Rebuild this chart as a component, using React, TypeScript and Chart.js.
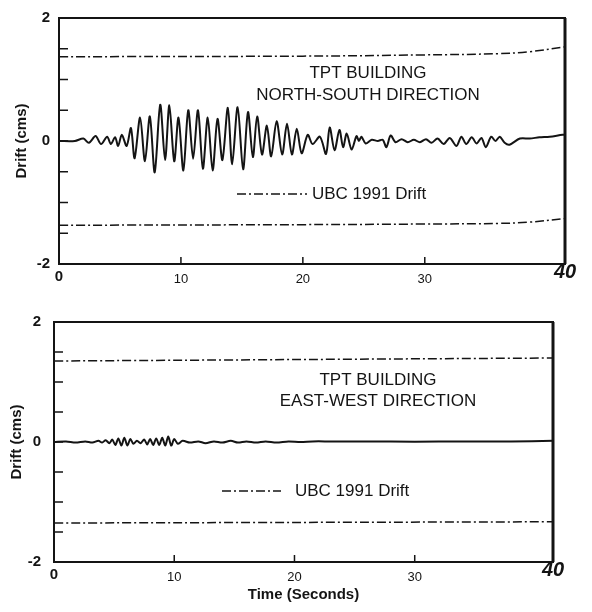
import React, { useEffect, useRef } from 'react';
import { Chart, registerables } from 'chart.js';

Chart.register(...registerables);

const FONT = '"Liberation Sans", Arial, Helvetica, sans-serif';
const INK = '#141414';
const DASH = [9, 3, 2, 3];

// ---- axis data ----
const xMax = 41.5;
const xTickValues = [0, 10, 20, 30, 41.5];
const xTickLabels = ['0', '10', '20', '30', '40'];
const yLabelValues = [-2, 0, 2];
const yAxisTitle = 'Drift (cms)';
const xAxisTitle = 'Time (Seconds)';
const legendLabel = 'UBC 1991 Drift';

// ---- North-South ----
const nsTitleLines = ['TPT BUILDING', 'NORTH-SOUTH DIRECTION'];
const nsTime = [
  0, 1.3, 2.0, 2.45, 3.0, 3.45, 3.95, 4.25, 4.6, 4.85, 5.15, 5.55, 5.9, 6.2, 6.65, 7.05, 7.45, 7.85,
  8.3, 8.7, 9.05, 9.45, 9.8, 10.2, 10.6, 11.0, 11.4, 11.8, 12.2, 12.6, 13.0, 13.4, 13.85, 14.2,
  14.65, 15.1, 15.5, 15.9, 16.25, 16.65, 17.05, 17.4, 17.85, 18.3, 18.7, 19.1, 19.5, 19.9, 20.4,
  20.8, 21.4, 21.9, 22.2, 22.6, 23.0, 23.3, 23.6, 24.0, 24.4, 24.6, 24.8, 25.15, 25.65, 26.15,
  26.55, 26.85, 27.2, 27.6, 28.1, 28.6, 29.1, 29.6, 30.1, 30.55, 31.05, 31.55, 32.05, 32.6, 33.0,
  33.4, 33.85, 34.25, 34.65, 35.0, 35.45, 35.8, 36.15, 36.55, 36.95, 37.8, 38.6, 39.4, 40.25,
  41.3, 41.5,
];
const nsDrift = [
  0, 0, 0.04, -0.03, 0.08, -0.05, 0.07, -0.05, 0.06, -0.08, 0.1, -0.08, 0.21, -0.28, 0.38, -0.33,
  0.4, -0.51, 0.59, -0.31, 0.58, -0.33, 0.38, -0.48, 0.5, -0.29, 0.5, -0.45, 0.38, -0.48, 0.36,
  -0.31, 0.54, -0.38, 0.55, -0.46, 0.47, -0.26, 0.4, -0.22, 0.25, -0.25, 0.32, -0.22, 0.28, -0.22,
  0.2, -0.2, 0.1, -0.05, 0.07, -0.21, 0.22, -0.15, 0.18, -0.1, 0.12, -0.14, 0.08, 0.0, 0.07, -0.04,
  0.02, 0.0, 0.02, -0.1, 0.09, -0.02, 0.03, -0.02, 0.02, -0.02, 0.03, -0.03, 0.04, -0.05, 0.05,
  -0.08, 0.07, -0.05, 0.06, -0.04, 0.05, -0.1, 0.07, 0.0, 0.07, -0.03, -0.06, 0.04, 0.04, 0.06,
  0.07, 0.1, 0.1,
];
const nsUbcTime = [0, 20, 30, 36, 38.5, 41.5];
const nsUbcUpper = [1.37, 1.38, 1.4, 1.42, 1.45, 1.53];
const nsUbcLower = [-1.37, -1.36, -1.35, -1.34, -1.32, -1.26];

// ---- East-West ----
const ewTitleLines = ['TPT BUILDING', 'EAST-WEST DIRECTION'];
const ewTime = [
  0, 1, 1.8, 2.6, 3.2, 3.7, 4.0, 4.3, 4.6, 4.85, 5.1, 5.35, 5.6, 5.85, 6.1, 6.35, 6.6, 6.9, 7.2,
  7.5, 7.75, 8.0, 8.25, 8.5, 8.75, 9.0, 9.25, 9.5, 9.75, 10.0, 10.3, 10.7, 11.3, 12.0, 12.6, 13.3,
  14.0, 14.7, 15.3, 16.0, 16.8, 17.6, 18.5, 19.5, 20.5, 21.5, 23, 26, 30, 34, 38, 41.5,
];
const ewDrift = [
  0, 0.01, -0.01, 0.01, -0.01, 0.02, -0.01, 0.03, -0.02, 0.04, -0.05, 0.06, -0.06, 0.07, -0.06,
  0.05, -0.03, 0.02, -0.02, 0.04, -0.04, 0.05, -0.05, 0.06, -0.05, 0.07, -0.06, 0.09, -0.06, 0.05,
  -0.03, 0.02, -0.01, 0.01, -0.02, 0.01, -0.01, 0.02, -0.01, 0.01, -0.01, 0.01, -0.01, 0.01, 0.0,
  0.01, 0.01, 0.01, 0.005, 0.01, 0.01, 0.02,
];
const ewUbcTime = [0, 41.5];
const ewUbcUpper = [1.35, 1.4];
const ewUbcLower = [-1.35, -1.33];

const pts = (xs: number[], ys: number[]) => xs.map((x, i) => ({ x, y: ys[i] }));

const decorPlugin = {
  id: 'decor',
  afterDraw(chart: any, _args: any, opts: any) {
    const { ctx, chartArea: a, scales } = chart;
    const xs = scales.x;
    const ys = scales.y;
    ctx.save();
    ctx.strokeStyle = INK;
    ctx.fillStyle = INK;
    ctx.lineWidth = 1.5;
    ctx.beginPath();
    ys.ticks.forEach((t: any) => {
      if (Math.abs(t.value) < 2) {
        const py = ys.getPixelForValue(t.value);
        ctx.moveTo(a.left, py);
        ctx.lineTo(a.left + 9, py);
      }
    });
    xs.ticks.forEach((t: any) => {
      if (t.value > 0 && t.value < 40) {
        const px = xs.getPixelForValue(t.value);
        ctx.moveTo(px, a.bottom);
        ctx.lineTo(px, a.bottom - 7);
      }
    });
    ctx.stroke();
    ctx.lineWidth = 2;
    ctx.strokeRect(a.left, a.top, a.right - a.left, a.bottom - a.top);
    ctx.lineWidth = 3;
    ctx.beginPath();
    ctx.moveTo(a.right, a.top);
    ctx.lineTo(a.right, a.bottom);
    ctx.stroke();

    ctx.font = `17px ${FONT}`;
    ctx.textAlign = 'center';
    ctx.textBaseline = 'middle';
    opts.lines.forEach((s: string, i: number) => ctx.fillText(s, opts.titleX, opts.titleY + i * opts.lineGap));

    ctx.lineWidth = 1.5;
    ctx.setLineDash(DASH);
    ctx.beginPath();
    ctx.moveTo(opts.legX1, opts.legY);
    ctx.lineTo(opts.legX2, opts.legY);
    ctx.stroke();
    ctx.setLineDash([]);
    ctx.textAlign = 'left';
    ctx.fillText(legendLabel, opts.legTextX, opts.legY);
    ctx.restore();
  },
};

type Cfg = {
  time: number[];
  drift: number[];
  ubcTime: number[];
  ubcUpper: number[];
  ubcLower: number[];
  lines: string[];
  height: number;
  yAxisWidth: number;
  xAxisHeight: number;
  padRight: number;
  yTickPad: number;
  yTitlePad: number;
  showXTitle: boolean;
  decor: any;
  traceTension: number;
};

function DriftPanel({ cfg, top }: { cfg: Cfg; top: number }) {
  const ref = useRef<HTMLCanvasElement>(null);
  useEffect(() => {
    if (!ref.current) return;
    const chart = new Chart(ref.current, {
      type: 'line',
      data: {
        datasets: [
          {
            data: pts(cfg.ubcTime, cfg.ubcUpper),
            borderColor: INK,
            borderWidth: 1.5,
            borderDash: DASH,
            pointRadius: 0,
            tension: 0.4,
            label: legendLabel,
          },
          {
            data: pts(cfg.ubcTime, cfg.ubcLower),
            borderColor: INK,
            borderWidth: 1.5,
            borderDash: DASH,
            pointRadius: 0,
            tension: 0.4,
            label: legendLabel,
          },
          {
            data: pts(cfg.time, cfg.drift),
            borderColor: INK,
            borderWidth: 2,
            pointRadius: 0,
            tension: cfg.traceTension,
            label: 'Drift',
          },
        ],
      },
      options: {
        responsive: false,
        animation: false,
        devicePixelRatio: 1,
        layout: { padding: { top: 16, right: cfg.padRight, left: 0, bottom: 0 } },
        plugins: {
          legend: { display: false },
          tooltip: { enabled: false },
          decor: cfg.decor,
        } as any,
        scales: {
          x: {
            type: 'linear',
            position: 'bottom',
            min: 0,
            max: xMax,
            grid: { display: false, drawTicks: false },
            border: { display: false },
            afterBuildTicks: (s: any) => {
              s.ticks = xTickValues.map((v) => ({ value: v }));
            },
            afterFit: (s: any) => {
              s.height = cfg.xAxisHeight;
            },
            ticks: {
              autoSkip: false,
              maxRotation: 0,
              padding: 8,
              color: INK,
              callback: (_v: any, i: number) => xTickLabels[i],
              font: (c: any) => {
                if (c.index === 0) return { family: FONT, size: 15, weight: 'bold', lineHeight: 0.7 };
                if (c.index === xTickLabels.length - 1)
                  return { family: FONT, size: 20, weight: 'bold', style: 'italic', lineHeight: 0.01 };
                return { family: FONT, size: 13, weight: 'normal', lineHeight: 1.2 };
              },
            },
            title: {
              display: cfg.showXTitle,
              text: xAxisTitle,
              color: INK,
              font: { family: FONT, size: 15, weight: 'bold' },
              padding: { top: 0, bottom: 8 },
            },
          },
          y: {
            type: 'linear',
            min: -2,
            max: 2,
            grid: { display: false, drawTicks: false },
            border: { display: false },
            afterFit: (s: any) => {
              s.width = cfg.yAxisWidth;
            },
            ticks: {
              stepSize: 0.5,
              padding: cfg.yTickPad,
              color: INK,
              font: { family: FONT, size: 15, weight: 'bold' },
              callback: (v: any) => (yLabelValues.includes(Number(v)) ? String(v) : ''),
            },
            title: {
              display: true,
              text: yAxisTitle,
              color: INK,
              font: { family: FONT, size: 15, weight: 'bold' },
              padding: { top: cfg.yTitlePad, bottom: 0 },
            },
          },
        },
      } as any,
      plugins: [decorPlugin],
    });
    return () => chart.destroy();
  }, [cfg]);
  return (
    <canvas
      ref={ref}
      width={592}
      height={cfg.height}
      style={{ position: 'absolute', left: 0, top, width: 592, height: cfg.height }}
    />
  );
}

const nsCfg: Cfg = {
  time: nsTime,
  drift: nsDrift,
  ubcTime: nsUbcTime,
  ubcUpper: nsUbcUpper,
  ubcLower: nsUbcLower,
  lines: nsTitleLines,
  height: 300,
  yAxisWidth: 59,
  xAxisHeight: 36,
  padRight: 27,
  yTickPad: 9,
  yTitlePad: 13,
  showXTitle: false,
  traceTension: 0.3,
  decor: { lines: nsTitleLines, titleX: 368, titleY: 73, lineGap: 22, legX1: 237, legX2: 307, legY: 194, legTextX: 312 },
};

const ewCfg: Cfg = {
  time: ewTime,
  drift: ewDrift,
  ubcTime: ewUbcTime,
  ubcUpper: ewUbcUpper,
  ubcLower: ewUbcLower,
  lines: ewTitleLines,
  height: 312,
  yAxisWidth: 54,
  xAxisHeight: 50,
  padRight: 39,
  yTickPad: 13,
  yTitlePad: 8,
  showXTitle: true,
  traceTension: 0.3,
  decor: { lines: ewTitleLines, titleX: 378, titleY: 80, lineGap: 21, legX1: 222, legX2: 281, legY: 191, legTextX: 295 },
};

export default function App() {
  return (
    <div style={{ position: 'absolute', left: 0, top: 0, width: 592, height: 612, background: '#fff' }}>
      <DriftPanel cfg={nsCfg} top={0} />
      <DriftPanel cfg={ewCfg} top={300} />
    </div>
  );
}
